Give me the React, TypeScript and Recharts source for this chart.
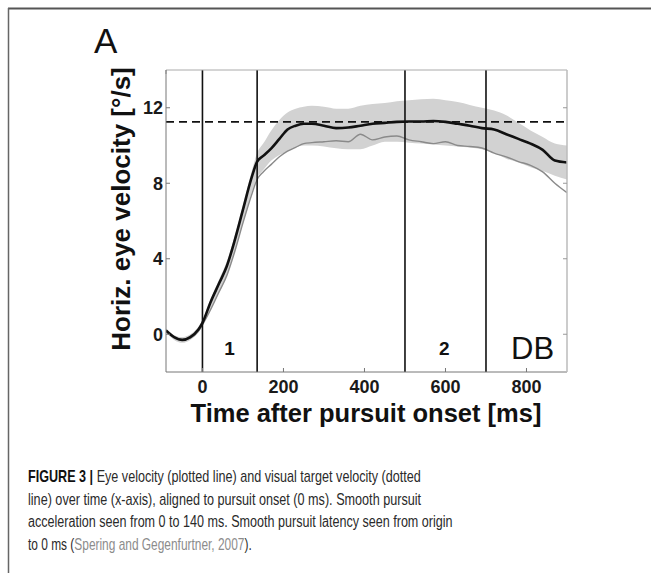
import { ComposedChart, Area, Line, XAxis, YAxis, ReferenceLine, ReferenceDot } from 'recharts';

// time after pursuit onset (ms)
const timeMs = [
  -90, -70, -50, -30, -10, 0, 20, 40, 60, 80, 100, 120, 135, 150, 170, 190, 210, 230, 250, 270,
  300, 330, 360, 390, 420, 450, 480, 510, 540, 570, 600, 630, 660, 690, 720, 750, 780, 810, 840, 870, 900,
];
// mean eye velocity (black)
const meanVel = [
  0.2, -0.15, -0.3, -0.15, 0.25, 0.6, 1.7, 2.65, 3.6, 5.0, 6.6, 8.2, 9.15, 9.45, 9.85, 10.35, 10.85, 11.05, 11.15, 11.15,
  11.05, 10.92, 10.95, 11.05, 11.15, 11.2, 11.25, 11.27, 11.27, 11.3, 11.25, 11.15, 11.05, 10.92, 10.85, 10.6, 10.35, 10.1, 9.77, 9.2, 9.1,
];
// second trace (grey)
const otherVel = [
  0.15, -0.15, -0.3, -0.2, 0.15, 0.5, 1.3, 2.2, 3.1, 4.4, 5.9, 7.3, 8.2, 8.6, 9.0, 9.4, 9.7, 9.9, 10.1, 10.15,
  10.2, 10.25, 10.2, 10.6, 10.3, 10.45, 10.5, 10.3, 10.2, 10.1, 10.2, 10.0, 9.95, 9.87, 9.6, 9.4, 9.15, 8.95, 8.6, 8.0, 7.5,
];
const bandLow = [
  0.1, -0.3, -0.45, -0.3, 0.1, 0.45, 1.3, 2.2, 3.1, 4.4, 5.9, 7.4, 8.3, 8.7, 9.2, 9.5, 9.7, 9.9, 10.0, 10.0,
  9.95, 9.85, 9.8, 9.8, 10.0, 10.2, 10.2, 10.15, 10.1, 10.05, 10.0, 9.95, 9.9, 9.8, 9.6, 9.3, 9.1, 8.85, 8.65, 8.4, 8.2,
];
const bandHigh = [
  0.3, -0.05, -0.15, 0.0, 0.4, 0.75, 1.85, 2.85, 3.85, 5.25, 6.85, 8.5, 9.6, 10.1, 10.8, 11.35, 11.75, 11.95, 12.05, 12.1,
  12.05, 11.95, 11.95, 12.1, 12.2, 12.25, 12.35, 12.4, 12.45, 12.48, 12.4, 12.3, 12.15, 12.0, 11.85, 11.6, 11.2, 10.8, 10.45, 10.1, 10.0,
];

const xTicks = [0, 200, 400, 600, 800];
const yTicks = [0, 4, 8, 12];
const phaseLines = [0, 135, 500, 700];
const targetVelocity = 11.25;
const phaseLabels = [
  { t: 67, v: -0.75, text: '1', big: false },
  { t: 597, v: -0.75, text: '2', big: false },
  { t: 815, v: -0.75, text: 'DB', big: true },
];

const data = timeMs.map((t, i) => ({
  t,
  mean: meanVel[i],
  other: otherVel[i],
  band: [bandLow[i], bandHigh[i]],
}));

const FONT = '"Liberation Sans", Arial, Helvetica, sans-serif';
const TEXT = '#2a2a2a';

export default function App() {
  return (
    <div style={{ position: 'fixed', left: 0, top: 0, width: 651, height: 573, background: '#fff', fontFamily: FONT }}>
      <div style={{ position: 'absolute', left: 0, top: 0 }}>
        <ComposedChart
          width={651}
          height={440}
          data={data}
          margin={{ top: 70, right: 84, left: 126, bottom: 38 }}
          style={{ fontFamily: FONT }}
        >
          <XAxis
            dataKey="t"
            type="number"
            domain={[-90, 900]}
            ticks={xTicks}
            allowDataOverflow
            height={30}
            tickSize={-4}
            tickMargin={12}
            axisLine={{ stroke: '#777', strokeWidth: 1 }}
            tickLine={{ stroke: '#777' }}
            tick={{ fontSize: 18, fontWeight: 'bold', fill: '#1a1a1a' }}
          />
          <XAxis
            xAxisId="top"
            orientation="top"
            type="number"
            domain={[-90, 900]}
            ticks={xTicks}
            allowDataOverflow
            mirror
            tickSize={4}
            tickFormatter={() => ''}
            axisLine={{ stroke: '#aaa' }}
            tickLine={{ stroke: '#999' }}
          />
          <YAxis
            type="number"
            domain={[-2, 14]}
            ticks={yTicks}
            allowDataOverflow
            width={40}
            tickSize={-4}
            tickMargin={7}
            axisLine={{ stroke: '#777', strokeWidth: 1 }}
            tickLine={{ stroke: '#777' }}
            tick={{ fontSize: 18, fontWeight: 'bold', fill: '#1a1a1a' }}
          />
          <YAxis
            yAxisId="right"
            orientation="right"
            type="number"
            domain={[-2, 14]}
            ticks={yTicks}
            allowDataOverflow
            mirror
            tickSize={4}
            tickFormatter={() => ''}
            axisLine={{ stroke: '#bbb', strokeWidth: 1.5 }}
            tickLine={{ stroke: '#999' }}
          />
          <Area
            dataKey="band"
            type="monotone"
            stroke="none"
            fill="#d2d2d2"
            fillOpacity={1}
            isAnimationActive={false}
          />
          <Line
            dataKey="other"
            type="monotone"
            stroke="#8a8a8a"
            strokeWidth={1.4}
            dot={false}
            isAnimationActive={false}
          />
          <Line
            dataKey="mean"
            type="monotone"
            stroke="#111"
            strokeWidth={2.6}
            dot={false}
            isAnimationActive={false}
          />
          <ReferenceLine y={targetVelocity} stroke="#111" strokeWidth={1.6} strokeDasharray="8 5" />
          {phaseLines.map((t) => (
            <ReferenceLine key={t} x={t} stroke="#111" strokeWidth={1.6} />
          ))}
          {phaseLabels.map((p) => (
            <ReferenceDot
              key={p.text}
              x={p.t}
              y={p.v}
              r={0}
              shape={(s: any) => (
                <text
                  x={s.cx}
                  y={s.cy}
                  textAnchor="middle"
                  dominantBaseline="central"
                  fontFamily={FONT}
                  fontSize={p.big ? 31 : 19}
                  fontWeight={p.big ? 'normal' : 'bold'}
                  fill="#111"
                >
                  {p.text}
                </text>
              )}
            />
          ))}
        </ComposedChart>
      </div>
      <svg width={651} height={573} style={{ position: 'absolute', left: 0, top: 0, pointerEvents: 'none' }}>
        <line x1={8} y1={8.5} x2={651} y2={8.5} stroke="#555" strokeWidth={2} />
        <line x1={8.5} y1={8} x2={8.5} y2={573} stroke="#666" strokeWidth={1.5} />
        <text x={94} y={53} fontFamily={FONT} fontSize={35} fill="#111">A</text>
        <text
          x={130}
          y={209}
          transform="rotate(-90 130 209)"
          textAnchor="middle"
          fontFamily={FONT}
          fontSize={26}
          fontWeight="bold"
          fill="#111"
        >
          Horiz. eye velocity [°/s]
        </text>
        <text x={366} y={422} textAnchor="middle" fontFamily={FONT} fontSize={25.5} fontWeight="bold" fill="#111">
          Time after pursuit onset [ms]
        </text>
        <g fontFamily={FONT} fontSize={16} fill={TEXT}>
          <g transform="translate(28 482) scale(0.788 1)">
            <text x={0} y={0}>
              <tspan fontWeight="bold" fill="#111">FIGURE 3 |</tspan> Eye velocity (plotted line) and visual target velocity (dotted
            </text>
          </g>
          <g transform="translate(28 504.5) scale(0.79 1)">
            <text x={0} y={0}>line) over time (x-axis), aligned to pursuit onset (0 ms). Smooth pursuit</text>
          </g>
          <g transform="translate(28 527) scale(0.786 1)">
            <text x={0} y={0}>acceleration seen from 0 to 140 ms. Smooth pursuit latency seen from origin</text>
          </g>
          <g transform="translate(28 549.5) scale(0.745 1)">
            <text x={0} y={0}>
              to 0 ms (<tspan fill="#8c8c8c">Spering and Gegenfurtner, 2007</tspan>).
            </text>
          </g>
        </g>
      </svg>
    </div>
  );
}
